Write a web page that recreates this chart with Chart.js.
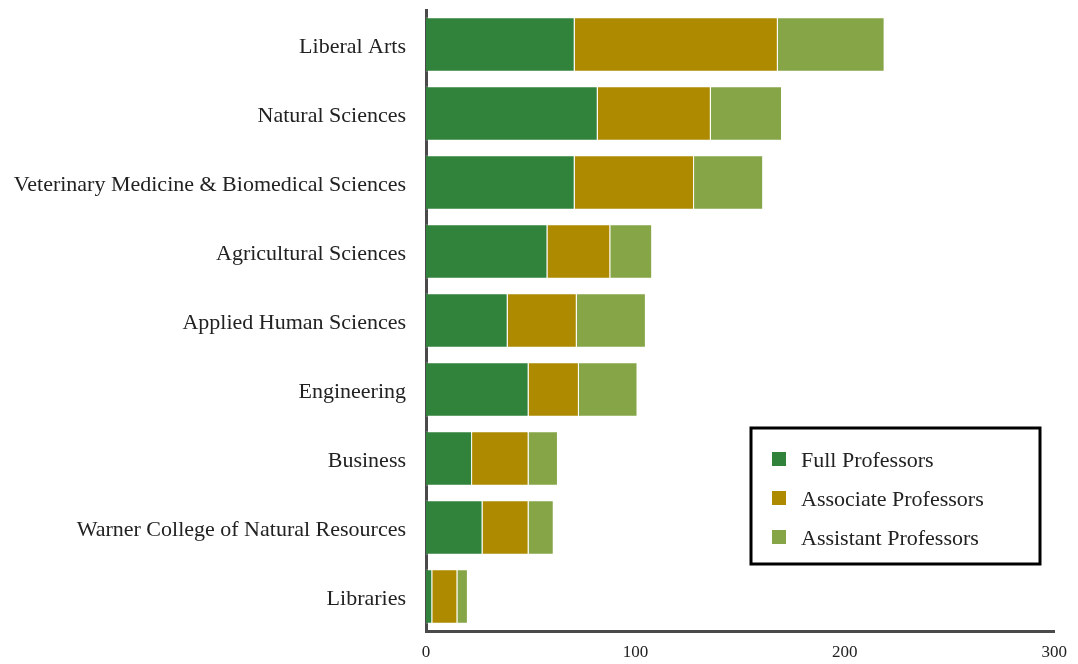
<!DOCTYPE html>
<html>
<head>
<meta charset="utf-8">
<script src="https://cdn.jsdelivr.net/npm/chart.js@4/dist/chart.umd.min.js"></script>
<style>
  html, body { margin: 0; padding: 0; background: #fff; }
  #wrap { width: 1078px; height: 664px; position: relative; }
</style>
</head>
<body>
<div id="wrap"><canvas id="chart"></canvas></div>
<script>
// Faculty counts by college.
const colleges = [
  "Liberal Arts",
  "Natural Sciences",
  "Veterinary Medicine & Biomedical Sciences",
  "Agricultural Sciences",
  "Applied Human Sciences",
  "Engineering",
  "Business",
  "Warner College of Natural Resources",
  "Libraries",
];
const fullProfessors      = [71, 82, 71, 58, 39, 49, 22, 27, 3];
const associateProfessors = [97, 54, 57, 30, 33, 24, 27, 22, 12];
const assistantProfessors = [51, 34, 33, 20, 33, 28, 14, 12, 5];
const xTicks = [0, 100, 200, 300];

const seriesNames = ["Full Professors", "Associate Professors", "Assistant Professors"];
const seriesColors = ["#31823b", "#ad8a00", "#86a547"];

const serif = "'Liberation Serif', 'DejaVu Serif', serif";
const axisColor = "#4a4a4a";

// Boxed legend drawn inside the plot, lower right.
const boxLegend = {
  id: "boxLegend",
  afterDraw(chart) {
    const ctx = chart.ctx;
    const x = 751, y = 428, w = 289, h = 136;
    ctx.save();
    ctx.lineWidth = 3;
    ctx.strokeStyle = "#000";
    ctx.strokeRect(x, y, w, h);
    ctx.font = "22px " + serif;
    ctx.textBaseline = "middle";
    chart.data.datasets.forEach((ds, i) => {
      const cy = 459 + i * 39;
      ctx.fillStyle = ds.backgroundColor;
      ctx.fillRect(772, cy - 7, 14, 14);
      ctx.fillStyle = "#222";
      ctx.fillText(ds.label, 801, cy + 2);
    });
    ctx.restore();
  },
};

const datasets = [fullProfessors, associateProfessors, assistantProfessors].map((vals, i) => ({
  label: seriesNames[i],
  data: vals,
  backgroundColor: seriesColors[i],
  borderColor: "rgba(255,255,255,0.35)",
  borderWidth: 1,
  barPercentage: 0.79,
  categoryPercentage: 1,
}));

new Chart(document.getElementById("chart"), {
  type: "bar",
  data: { labels: colleges, datasets },
  options: {
    indexAxis: "y",
    responsive: true,
    maintainAspectRatio: false,
    animation: false,
    layout: { padding: { top: 10, right: 20, bottom: 0, left: 0 } },
    plugins: { legend: { display: false }, tooltip: { enabled: false } },
    scales: {
      x: {
        stacked: true,
        min: 0,
        max: 300,
        afterBuildTicks: (s) => { s.ticks = xTicks.map((v) => ({ value: v })); },
        afterFit: (s) => { s.height = 33; },
        grid: { display: false, drawTicks: false },
        border: { display: true, color: axisColor, width: 3 },
        ticks: { color: "#222", padding: 11, font: { family: serif, size: 17 } },
      },
      y: {
        stacked: true,
        afterFit: (s) => { s.width = 426; s.paddingTop = 0; s.paddingBottom = 0; },
        grid: { display: false, drawTicks: false },
        border: { display: true, color: axisColor, width: 3 },
        ticks: { color: "#222", padding: 20, labelOffset: 3, font: { family: serif, size: 22 } },
      },
    },
  },
  plugins: [boxLegend],
});
</script>
</body>
</html>
